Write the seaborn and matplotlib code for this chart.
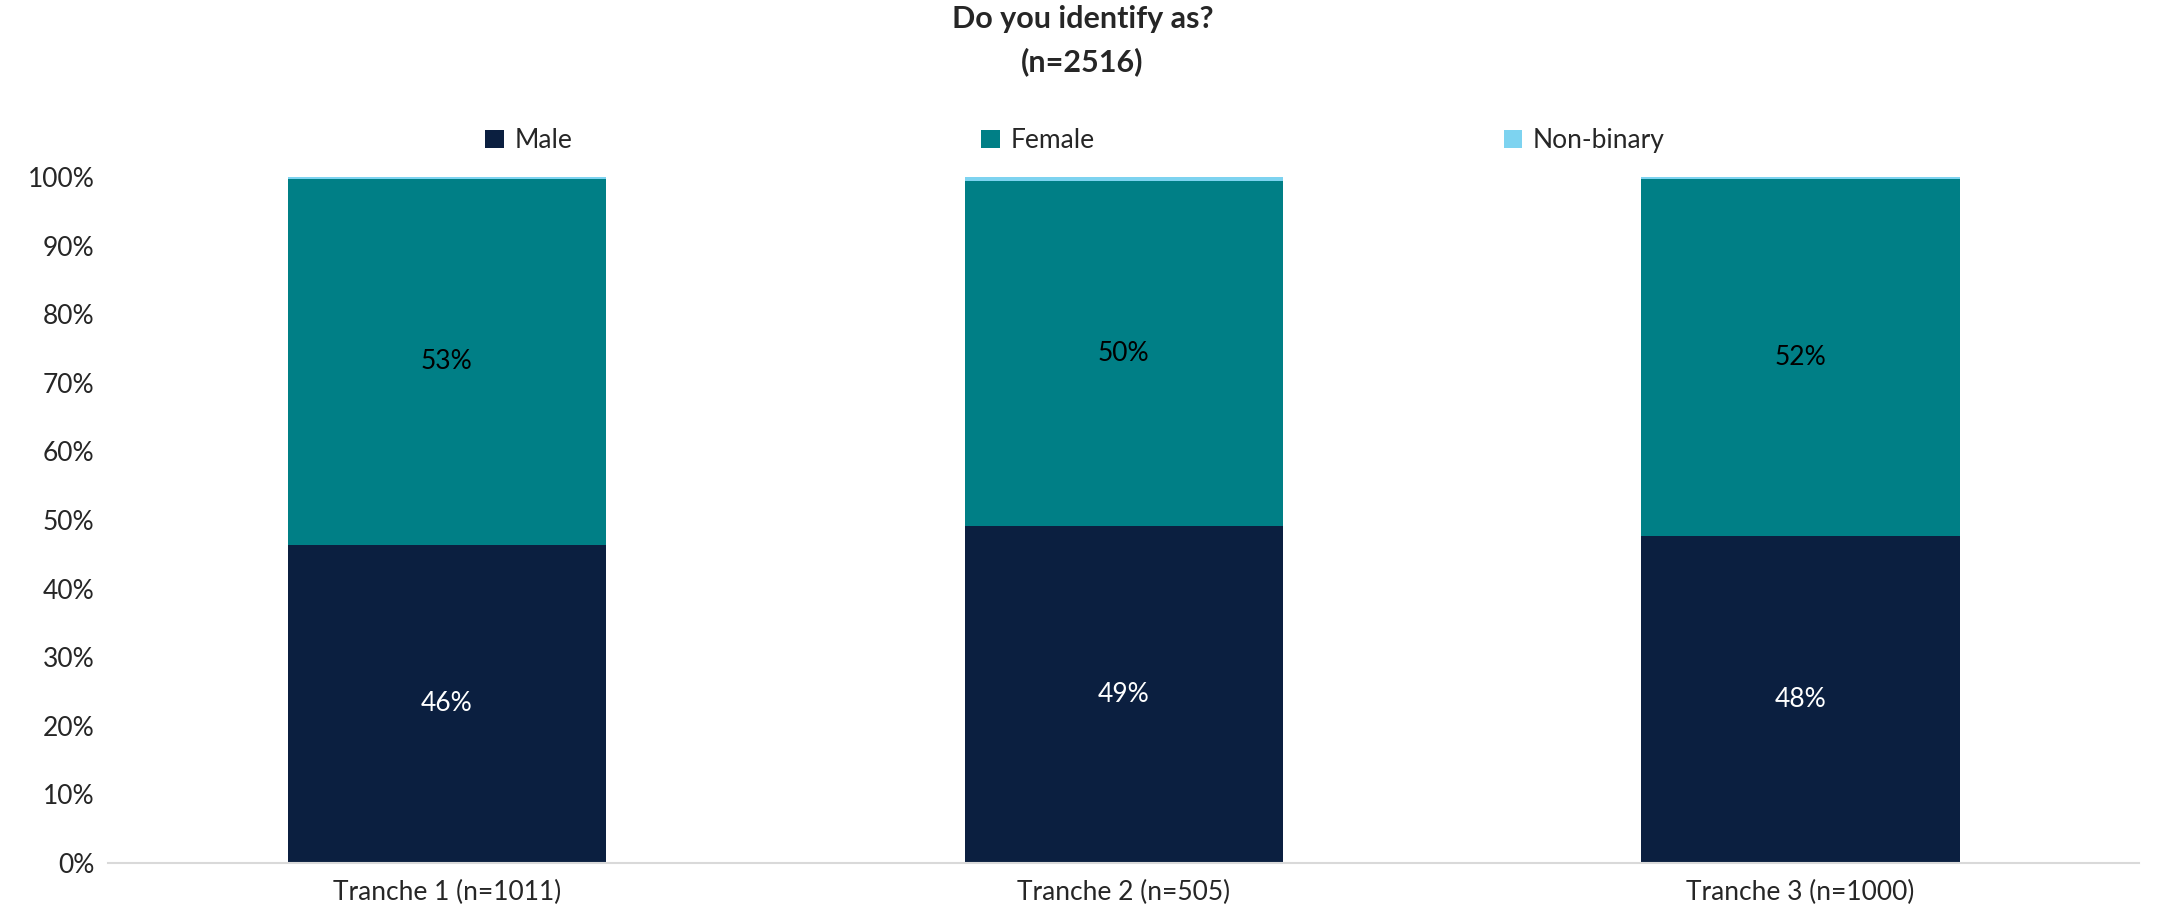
import pandas as pd
import numpy as np
import matplotlib
matplotlib.use('Agg')
import matplotlib.pyplot as plt
import seaborn as sns

tranches = ['Tranche 1 (n=1011)', 'Tranche 2 (n=505)', 'Tranche 3 (n=1000)']
male = [46.4, 49.1, 47.7]
female = [53.3, 50.3, 52.0]
non_binary = [0.3, 0.6, 0.3]

colors = {'Male': '#0B1F40', 'Female': '#007F86', 'Non-binary': '#7DD3F0'}

sns.set_style('white')
plt.rcParams['font.family'] = ['Lato', 'DejaVu Sans']

df = pd.DataFrame({'tranche': tranches, 'Male': male, 'Female': female, 'Non-binary': non_binary})

fig = plt.figure(figsize=(21.65, 9.22), dpi=100)
ax = fig.add_axes([0.05, 0.064, 0.938, 0.744])

bottom = np.zeros(len(df))
for seg in ['Male', 'Female', 'Non-binary']:
    sns.barplot(x='tranche', y=seg, data=df, color=colors[seg], bottom=bottom,
                width=0.47, ax=ax, label=seg, saturation=1, linewidth=0)
    if seg != 'Non-binary':
        for i, v in enumerate(df[seg]):
            ax.text(i, bottom[i] + v / 2, f'{round(v)}%', ha='center', va='center',
                    fontsize=19, color='white' if seg == 'Male' else 'black')
    bottom = bottom + df[seg].values

ax.set_ylim(0, 100)
ax.set_xlim(-0.5, 2.5)
ax.set_yticks(range(0, 101, 10))
ax.set_yticklabels([f'{t}%' for t in range(0, 101, 10)], fontsize=19)
ax.tick_params(axis='x', labelsize=19, length=0, pad=12)
ax.tick_params(axis='y', length=0, pad=10)
ax.set_xlabel('')
ax.set_ylabel('')
for s in ['top', 'right', 'left']:
    ax.spines[s].set_visible(False)
ax.spines['bottom'].set_color('#D9D9D9')
ax.spines['bottom'].set_linewidth(1.5)

fig.suptitle('Do you identify as?\n(n=2516)', fontsize=22, fontweight='bold', y=0.995,
             linespacing=1.6)
ax.legend(loc='lower center', bbox_to_anchor=(0.476, 1.0), ncol=3, frameon=False,
          fontsize=19, columnspacing=15.5, handlelength=0.7, handleheight=0.7, handletextpad=0.4)

fig.savefig('out.png', dpi=100)
